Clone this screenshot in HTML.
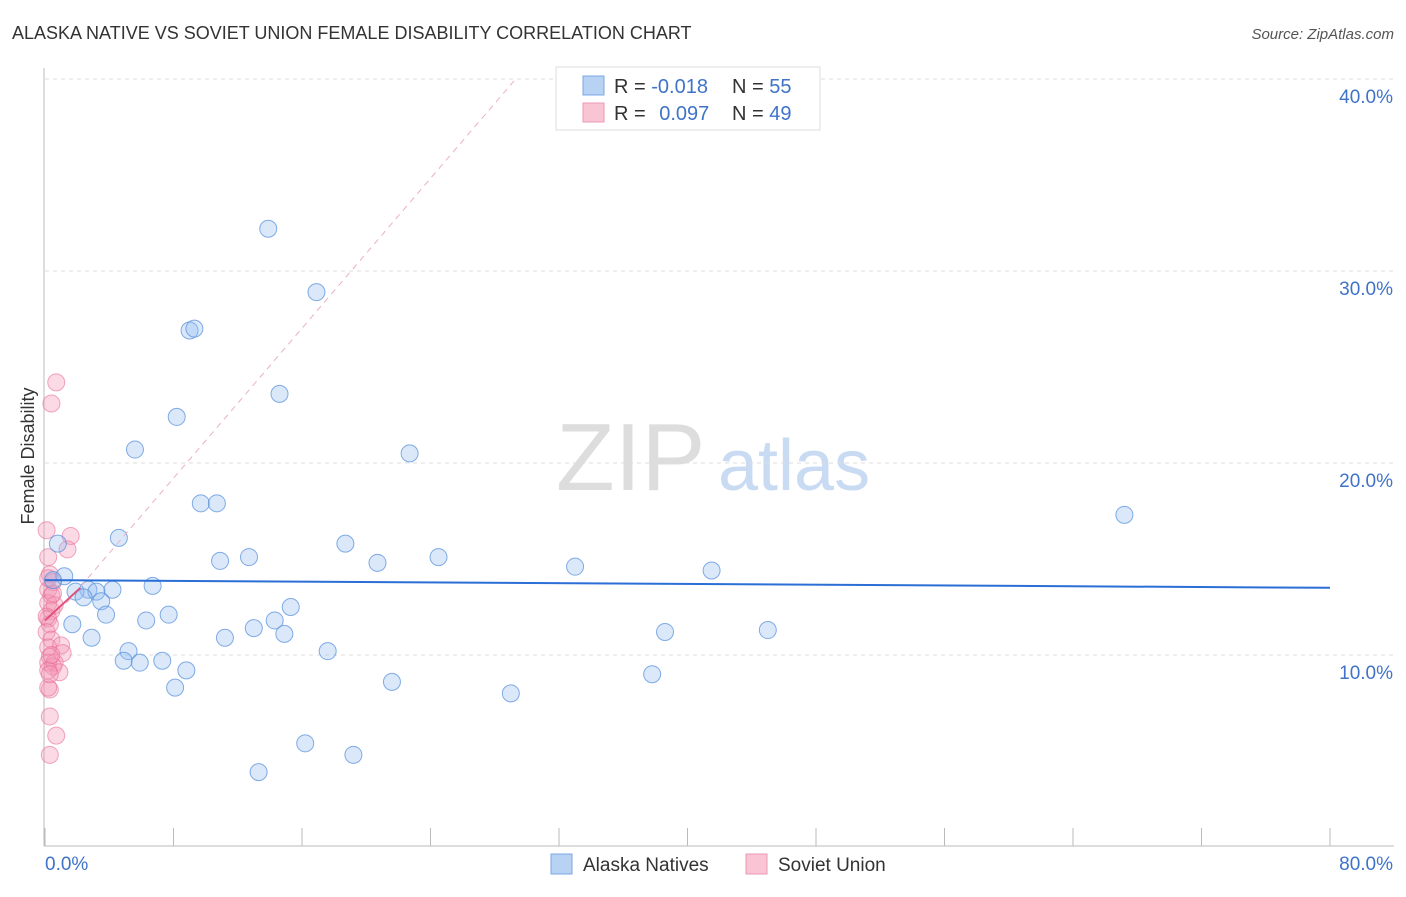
<!DOCTYPE html>
<html><head><meta charset="utf-8"><style>
body{margin:0;background:#fff;font-family:"Liberation Sans",sans-serif;}
svg text{font-family:"Liberation Sans",sans-serif;}
</style></head><body>
<svg id="chart" width="1406" height="892" xmlns="http://www.w3.org/2000/svg">
<text x="12" y="39" font-size="18" fill="#333">ALASKA NATIVE VS SOVIET UNION FEMALE DISABILITY CORRELATION CHART</text>
<text x="1394" y="39" font-size="15" fill="#555" font-style="italic" text-anchor="end">Source: ZipAtlas.com</text>
<text x="556" y="490" font-size="96" fill="#ddd" font-family="Liberation Serif">ZIP</text>
<text x="718" y="490" font-size="72" fill="#c9daf3">atlas</text>
<g id="grid"></g>
<g id="axes"></g>
<g id="pts"></g>
<g id="lines"></g>
<text transform="translate(34,456) rotate(-90)" font-size="18" fill="#333" text-anchor="middle">Female Disability</text>
<g>
<rect x="556" y="67" width="264" height="63" fill="#fff" stroke="#ddd"/>
<rect x="583" y="76" width="21" height="19" fill="#b8d2f4" stroke="#7aa7e4"/>
<rect x="583" y="103" width="21" height="19" fill="#f9c4d3" stroke="#ec9ab4"/>
<text x="614" y="93" font-size="20" fill="#333">R = <tspan fill="#3f73c9">-0.018</tspan></text>
<text x="732" y="93" font-size="20" fill="#333">N = <tspan fill="#3f73c9">55</tspan></text>
<text x="614" y="120" font-size="20" fill="#333">R = <tspan fill="#3f73c9" dx="8">0.097</tspan></text>
<text x="732" y="120" font-size="20" fill="#333">N = <tspan fill="#3f73c9">49</tspan></text>
</g>
<g>
<rect x="551" y="854" width="21" height="20" fill="#b8d2f4" stroke="#7aa7e4"/>
<text x="583" y="871" font-size="19" fill="#333">Alaska Natives</text>
<rect x="746" y="854" width="21" height="20" fill="#f9c4d3" stroke="#ec9ab4"/>
<text x="778" y="871" font-size="19" fill="#333">Soviet Union</text>
</g>
</svg>
<script>
const xTicks=[0,8,16,24,32,40,48,56,64,72,80];
const yTicks=[10,20,30,40];
const blueX=[13.9,16.9,9.0,9.3,14.6,8.2,5.6,22.7,67.2,9.7,10.7,4.6,0.8,18.7,12.7,10.9,24.5,20.7,33.0,41.5,1.2,0.5,6.7,2.7,4.2,3.2,1.9,2.4,3.5,15.3,3.8,7.7,6.3,14.3,1.7,13.0,14.9,38.6,45.0,11.2,2.9,5.2,17.6,4.9,7.3,5.9,8.8,37.8,8.1,21.6,29.0,16.2,19.2,13.3];
const blueY=[32.2,28.9,26.9,27.0,23.6,22.4,20.7,20.5,17.3,17.9,17.9,16.1,15.8,15.8,15.1,14.9,15.1,14.8,14.6,14.4,14.1,13.9,13.6,13.4,13.4,13.3,13.3,13.0,12.8,12.5,12.1,12.1,11.8,11.8,11.6,11.4,11.1,11.2,11.3,10.9,10.9,10.2,10.2,9.7,9.7,9.6,9.2,9.0,8.3,8.6,8.0,5.4,4.8,3.9];
const pinkX=[0.7,0.4,0.1,1.6,1.4,0.2,0.3,0.5,0.2,0.4,0.2,0.4,0.2,0.3,0.1,0.4,0.2,1.0,1.1,0.3,0.2,0.5,0.6,0.9,0.2,0.3,0.2,0.3,0.7,0.3,0.6,0.1,0.5,0.2,0.4,0.3];
const pinkY=[24.2,23.1,16.5,16.2,15.5,15.1,14.2,13.8,13.4,13.1,12.7,12.3,11.9,11.6,11.2,10.8,10.4,10.5,10.1,9.9,9.6,9.4,9.6,9.1,9.2,8.2,8.3,6.8,5.8,4.8,12.6,12.0,13.2,14.0,10.0,9.0];
const blueLine=[13.9,13.5];
const pinkLine=[11.8,13.5];
const pinkDash=[11.4,39.9,29.2];
const NS='http://www.w3.org/2000/svg';
const sx=v=>45+v*16.0625, sy=v=>847-v*19.2;
function mk(tag,attrs,parent){const e=document.createElementNS(NS,tag);for(const k in attrs)e.setAttribute(k,attrs[k]);parent.appendChild(e);return e;}
const grid=document.getElementById('grid'),axes=document.getElementById('axes'),pts=document.getElementById('pts'),lines=document.getElementById('lines');
yTicks.forEach(t=>{const l=mk('line',{x1:45,x2:1394,y1:sy(t),y2:sy(t),stroke:'#ddd','stroke-dasharray':'4,4'},grid);


const tx=mk('text',{x:1393,y:sy(t)+24,'font-size':19,fill:'#3f73c9','text-anchor':'end'},axes);tx.textContent=t.toFixed(1)+'%';

});
const ax=mk('line',{x1:44,x2:44,y1:68,y2:846,stroke:'#bbb'},axes);


const bx=mk('line',{x1:44,x2:1394,y1:846,y2:846,stroke:'#bbb'},axes);


xTicks.forEach(t=>{const l=mk('line',{x1:sx(t),x2:sx(t),y1:828,y2:846,stroke:'#bbb'},axes);

});
[[0,45,'start'],[80,1393,'end']].forEach(a=>{const tx=mk('text',{x:a[1],y:870,'font-size':19,fill:'#3f73c9','text-anchor':a[2]},axes);tx.textContent=a[0].toFixed(1)+'%';

});
pinkX.forEach((x,i)=>{const c=mk('circle',{cx:sx(x),cy:sy(pinkY[i]),r:8.5,fill:'rgba(244,150,180,0.35)',stroke:'rgba(232,110,150,0.6)'},pts);

});
blueX.forEach((x,i)=>{const c=mk('circle',{cx:sx(x),cy:sy(blueY[i]),r:8.5,fill:'rgba(150,190,240,0.35)',stroke:'rgba(90,145,220,0.75)'},pts);

});
const pd=mk('line',{x1:sx(0),y1:sy(pinkDash[0]),x2:sx(pinkDash[2]),y2:sy(pinkDash[1]),stroke:'#eab0c2','stroke-dasharray':'6,5'},lines);


const bl=mk('line',{x1:sx(0),y1:sy(blueLine[0]),x2:sx(80),y2:sy(blueLine[1]),stroke:'#2b6fd6','stroke-width':2},lines);


const pl=mk('line',{x1:sx(0),y1:sy(pinkLine[0]),x2:sx(2.2),y2:sy(pinkLine[1]),stroke:'#e0507a','stroke-width':2},lines);


</script>
</body></html>
